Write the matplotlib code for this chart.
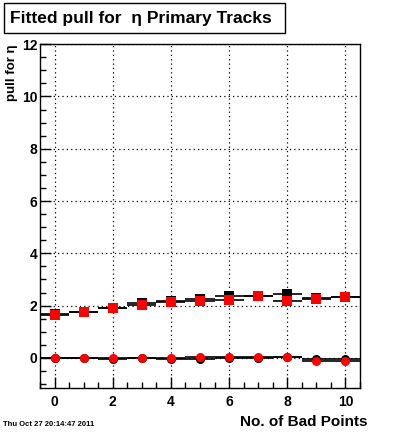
import matplotlib
matplotlib.use("Agg")
import matplotlib.pyplot as plt
from matplotlib.patches import Rectangle
from matplotlib.ticker import MultipleLocator

plt.rcParams['font.family'] = ['Liberation Sans', 'DejaVu Sans']

bad_points = [0, 1, 2, 3, 4, 5, 6, 7, 8, 9, 10]
sigma_black = [1.68, 1.76, 1.91, 2.10, 2.19, 2.25, 2.38, 2.38, 2.45, 2.29, 2.33]
sigma_red = [1.65, 1.76, 1.91, 2.04, 2.15, 2.19, 2.23, 2.38, 2.18, 2.27, 2.33]
mean_black = [0.00, 0.00, -0.04, -0.02, -0.03, -0.03, -0.02, -0.02, 0.03, -0.05, -0.03]
mean_red = [0.00, 0.00, -0.01, -0.01, -0.01, 0.03, 0.03, 0.03, 0.05, -0.10, -0.12]
bin_half_width = 0.5

fig = plt.figure(figsize=(4.0, 4.33), dpi=100)
ax = fig.add_axes([0.1, 0.104, 0.8, 0.794])

ms = 6.5
for ys, marker, color in [(sigma_black, 's', 'black'), (mean_black, 'o', 'black'),
                          (sigma_red, 's', 'red'), (mean_red, 'o', 'red')]:
    ax.errorbar(bad_points, ys, xerr=bin_half_width, fmt=marker, color=color,
                ecolor='black', elinewidth=1.2, markersize=ms, markeredgewidth=0,
                capsize=0, zorder=3)

ax.set_xlim(-0.5, 10.5)
ax.set_ylim(-1.15, 12)
ax.xaxis.set_major_locator(MultipleLocator(2))
ax.xaxis.set_minor_locator(MultipleLocator(0.5))
ax.yaxis.set_major_locator(MultipleLocator(2))
ax.yaxis.set_minor_locator(MultipleLocator(0.5))
ax.tick_params(which='both', direction='in', top=False, right=False, width=1)
ax.tick_params(which='major', length=8, labelsize=10)
ax.tick_params(axis='x', which='major', pad=5)
ax.tick_params(axis='y', which='major', pad=2)
ax.tick_params(which='minor', length=4)
for lab in ax.get_xticklabels() + ax.get_yticklabels():
    lab.set_fontweight('bold')
ax.grid(True, which='major', linestyle=(0, (1, 2.5)), color='black', linewidth=0.9)
for s in ax.spines.values():
    s.set_linewidth(1)

fig.text(12 / 400, 1 - 44 / 433, 'pull for η', rotation=90, ha='center', va='top',
         fontsize=9.5, fontweight='bold')
fig.text(0.918, 1 - 429 / 433, 'No. of Bad Points', ha='right', va='bottom',
         fontsize=11, fontweight='bold')
fig.text(0.008, 0.012, 'Thu Oct 27 20:14:47 2011', ha='left', va='bottom',
         fontsize=5.5, fontweight='bold')

fig.patches.append(Rectangle((4 / 400, 1 - 33 / 433), 281 / 400, 30 / 433,
                             transform=fig.transFigure, fc='white', ec='black', lw=1))
fig.text(10 / 400, 1 - 18 / 433, 'Fitted pull for  η Primary Tracks', ha='left',
         va='center', fontsize=12.5, fontweight='bold')

fig.savefig('out.png', dpi=100)
